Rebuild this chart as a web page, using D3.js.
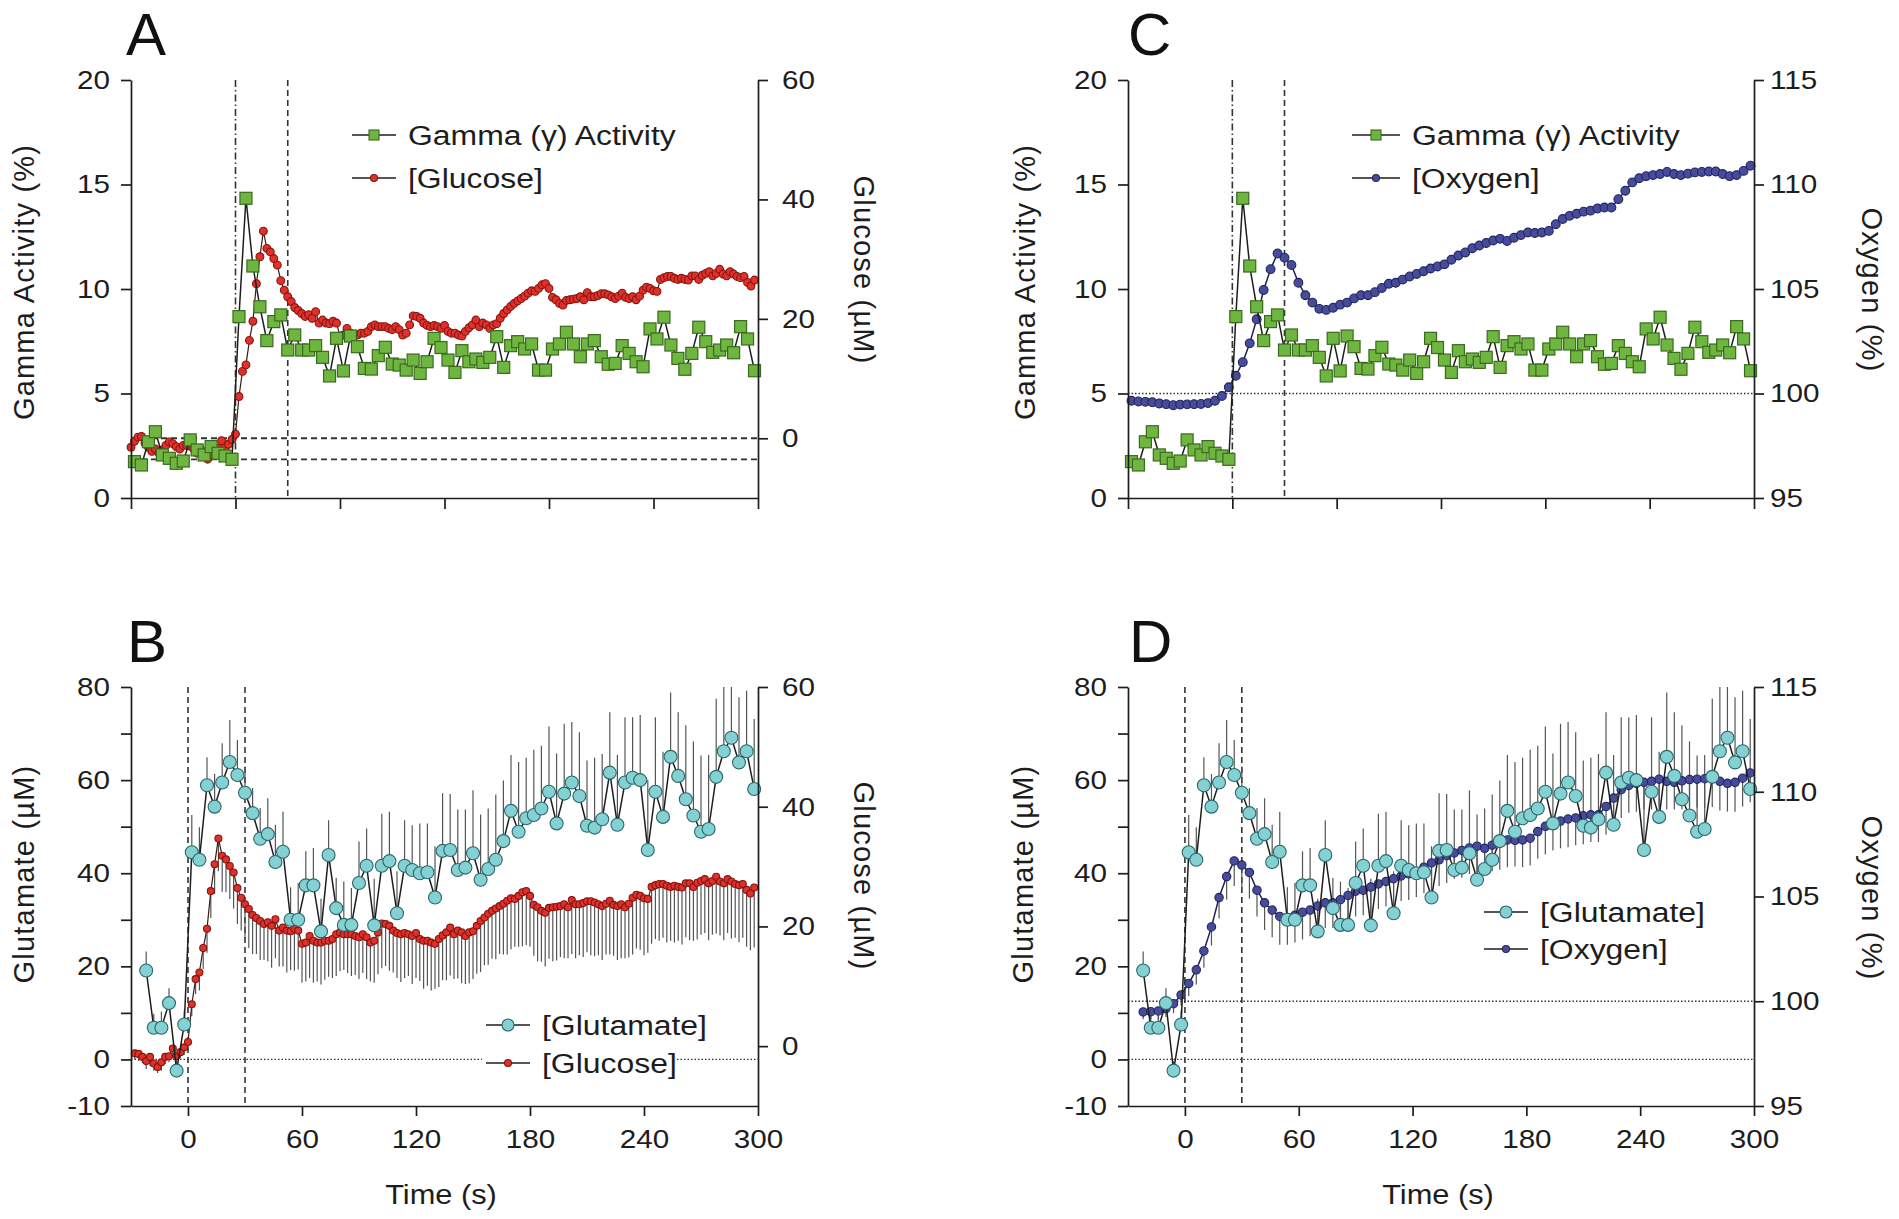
<!DOCTYPE html>
<html><head><meta charset="utf-8">
<script src="https://cdn.jsdelivr.net/npm/d3@7"></script>
<style>html,body{margin:0;padding:0;background:#fff;}svg{display:block;}</style>
</head><body><svg id="chart" width="1899" height="1219"></svg>
<script>
// ---------------- DATA ----------------
// gamma activity (%) and oxygen (%) sampled every 4 s from -58 s to 298 s
const gammaTimes = d3.range(-58, 299, 4);
const gamma = [1.74,1.58,2.69,3.17,2.06,1.90,1.66,1.77,2.78,2.30,2.06,2.46,2.14,2.01,1.85,
8.68,14.34,11.1,9.15,7.53,8.44,8.76,7.08,7.80,7.08,
7.08,7.29,6.73,5.84,7.64,6.08,7.75,7.24,6.2,6.17,
6.81,7.21,6.41,6.36,6.12,6.6,5.96,6.52,7.64,7.2,
6.6,6.01,7.05,6.52,6.65,6.49,6.73,7.72,6.25,7.29,
7.48,7.13,7.37,6.12,6.12,7.13,7.37,7.93,7.37,6.76,
7.37,7.53,6.76,6.4,6.44,7.29,6.92,6.52,6.28,8.09,
7.61,8.65,7.32,6.68,6.16,6.92,8.17,7.48,6.97,7.08,
7.32,6.95,8.2,7.61,6.09];
const oxygen = [99.65,99.62,99.6,99.58,99.52,99.49,99.44,99.47,99.48,99.49,99.5,99.54,99.65,99.88,100.3,
100.85,101.5,102.4,103.55,104.95,105.95,106.7,106.5,106.15,105.3,
104.7,104.35,104.05,104.0,104.1,104.25,104.35,104.55,104.7,104.7,
104.85,105.05,105.25,105.3,105.45,105.6,105.72,105.85,105.98,106.08,
106.18,106.4,106.6,106.75,106.95,107.08,107.2,107.32,107.4,107.3,
107.45,107.58,107.7,107.68,107.7,107.78,108.1,108.35,108.5,108.6,
108.7,108.75,108.85,108.9,108.9,109.3,109.7,110.1,110.3,110.4,
110.45,110.5,110.6,110.5,110.45,110.52,110.58,110.6,110.62,110.62,
110.5,110.4,110.45,110.65,110.9];
const oxygenErr = [0.3,0.3,0.3,0.3,0.3,0.3,0.3,0.3,0.3,0.35,0.35,0.4,0.4,0.45,0.5,
0.6,0.7,0.8,0.9,1.0,1.1,1.2,1.2,1.25,1.25,
1.3,1.3,1.35,1.3,1.3,1.3,1.25,1.25,1.2,1.2,
1.2,1.25,1.2,1.2,1.25,1.2,1.2,1.25,1.2,1.25,
1.2,1.25,1.3,1.25,1.3,1.25,1.3,1.25,1.3,1.3,
1.25,1.3,1.3,1.25,1.3,1.3,1.3,1.35,1.3,1.3,
1.35,1.3,1.35,1.3,1.3,1.35,1.3,1.35,1.3,1.35,
1.3,1.35,1.3,1.35,1.3,1.35,1.3,1.35,1.4,1.35,
1.4,1.35,1.4,1.35,1.4];

// glutamate (µM) sampled every 4 s from -22 s to 298 s
const glutamateTimes = d3.range(-22, 299, 4);
const glutamate = [19.1,6.8,6.8,12.1,-2.4,7.5,
44.5,42.9,58.9,54.3,59.5,63.9,61.1,57.3,52.9,47.4,
48.4,42.4,44.6,30.0,30.0,37.4,37.4,27.5,43.9,32.5,
28.9,28.9,37.9,41.6,28.8,41.6,42.6,31.4,41.6,40.7,
40.0,40.2,34.8,44.8,45.0,40.7,41.2,44.3,38.6,40.9,
42.9,46.9,53.4,48.9,51.8,52.5,53.9,57.5,50.7,57.1,
59.5,56.6,50.2,49.8,51.6,61.6,50.4,59.5,60.5,60.0,
45.0,57.5,52.1,65.0,60.9,55.9,52.4,48.9,49.5,60.7,
66.2,69.1,63.8,66.2,58.1];
const glutamateErr = [4.1,3.0,3.5,3.2,2.0,3.0,
8,7,6,7,8.4,9,7.5,5.6,
5.4,6.6,7.7,8,8.6,7,7.9,7.3,
8,7,7.5,6.5,9.3,7.9,8.9,8,
10,11.2,10.6,9,9.8,9.6,10.7,10.5,
11,12.4,12,13,12.5,13.5,14,13,
14,13,12,15,13,14,13.5,14,
15,15,13,13.7,14,15,14,13,
15,14,13,14,15,16,14,13.8,
13.7,15.9,15.9,16.4,15.9,16.8,14,11,
14,13,15];

// glucose (µM) sampled every 2 s from -60 s to 298 s
const glucoseTimes = d3.range(-60, 299, 2);
const glucose = [-1.5,-0.5,0.2,0.3,-0.8,-1.5,-2.2,-1.8,-2.5,-2.0,-1.2,-0.6,-0.9,-1.4,-1.8,-1.2,
-1.2,-1.3,-1.8,-2.5,-1.8,-2.9,-3.5,-2.7,-1.8,-1.7,-0.4,-1.6,-1.0,-0.2,
0.7,
7.0,11.2,12.3,16.4,19.6,25.9,30.4,34.7,31.8,31.2,
30.1,29.0,26.4,24.8,23.7,22.9,21.9,21.4,20.9,20.4,
20.7,20.1,21.2,19.3,19.8,19.3,19.2,19.6,19.3,17.1,
17.3,18.4,17.6,17.3,17.3,17.6,17.6,17.9,18.7,19.0,
18.7,18.7,18.7,18.4,18.2,18.7,18.2,17.3,17.6,19.0,
20.5,20.4,20.1,19.3,18.9,18.7,18.9,18.7,18.4,18.9,
17.9,17.6,17.6,17.3,17.1,17.9,18.5,19.0,
19.8,18.7,19.3,19.0,18.4,19.0,19.2,20.1,20.9,21.5,
22.1,22.6,23.0,23.4,23.8,24.3,24.7,24.6,25.1,25.7,
25.9,25.1,23.6,23.2,22.6,22.3,23.1,23.2,23.3,23.4,
23.7,23.2,24.4,23.7,23.7,23.9,24.2,24.2,24.0,23.7,
23.4,23.8,24.3,23.6,23.4,23.7,23.2,23.8,24.8,25.3,
25.1,24.7,24.6,26.6,26.9,27.1,27.1,26.8,26.6,26.8,
26.6,26.5,27.2,27.2,26.6,27.3,27.6,27.9,27.2,27.6,
28.3,27.5,27.2,27.9,27.5,27.1,26.9,27.1,26.1,25.5,
26.5];
const glucoseErr = [1,1,1,1,1,1,1,1,1,1,1,1,1,1,1,1,
1.0,1.2,1.0,1.3,1.5,1.2,1.0,1.4,1.2,1.0,1.5,1.2,1.0,1.3,
1.5,
2,2.5,3,3.5,4,4.5,5,5.5,6,5.5,
5.5,6,6,5.5,6,6.5,6.5,6,6.5,6,
6.5,7,6.5,6,6.5,7,6.5,7,6.5,6.5,
6.5,7,7,6.5,7,6.5,6,6.5,7,6.5,
6,6.5,7,6.5,7,6.5,7,6.5,7,7,
7.5,7,7.5,7,7.5,8,7.5,7,8,7.5,
7,8,7.5,8,7.5,8,7.5,8,
8,7.5,8,8.5,8,8.5,8,8,8.5,8,
8.5,8,8.5,8,8.5,9,8.5,8,8.5,9,
9,8.5,8.5,9,8.5,9,8.5,9,9,8.5,
9,8.5,9,9,8.5,9,8.5,9,9,8.5,
9,8.5,9,8.5,9,9,8.5,9,9.5,9,
9,9.5,9,9.5,9,9.5,9,9.5,9,9.5,
9,9.5,9,9.5,9,9.5,9,9,9.5,9,
9.5,9,9.5,9,9.5,9,9.5,9,9.5,9.5,
10];

// ticks / labels
const timeTicksTop = [-60, 0, 60, 120, 180, 240, 300];
const timeTicksBottom = [0, 60, 120, 180, 240, 300];
const gammaTicks = [0, 5, 10, 15, 20];
const glucoseTicks = [0, 20, 40, 60];
const oxygenTicks = [95, 100, 105, 110, 115];
const glutamateTicks = [-10, 0, 10, 20, 30, 40, 50, 60, 70, 80];
const glutamateTickLabels = [-10, 0, 20, 40, 60, 80];
const stimulusLines = [0, 30];

// ---------------- DRAWING ----------------
const FONT = "'Liberation Sans', Arial, Helvetica, sans-serif";
const S = 1.14;
const INK = '#1d1d1d';
const C = {
  gFill:'#6fb641', gStroke:'#3a6a1e',
  rFill:'#e0302a', rStroke:'#861511',
  oFill:'#474b9b', oStroke:'#22255c',
  tFill:'#84d1d3', tStroke:'#2b676b'
};
const svg = d3.select('#chart');
svg.append('rect').attr('width',1899).attr('height',1219).attr('fill','#fff');

const gammaData = gammaTimes.map((t,i)=>({t, v:gamma[i]}));
const oxygenData = gammaTimes.map((t,i)=>({t, v:oxygen[i], e:oxygenErr[i]}));
const glutData = glutamateTimes.map((t,i)=>({t, v:glutamate[i], e:glutamateErr[i]}));
const glucData = glucoseTimes.map((t,i)=>({t, v:glucose[i], e:glucoseErr[i]}));

function hText(parent, x, y, str, size, anchor){
  return parent.append('text')
    .attr('transform', `translate(${x},${y}) scale(${S},1)`)
    .attr('font-size', size).attr('font-family', FONT).attr('fill', INK)
    .attr('text-anchor', anchor || 'start').attr('dominant-baseline','central')
    .text(str);
}
function vText(parent, x, y, str, rot){
  return parent.append('text')
    .attr('transform', `translate(${x},${y}) rotate(${rot})`)
    .attr('font-size', 29).attr('font-family', FONT).attr('fill', INK)
    .attr('letter-spacing', 1.2)
    .attr('text-anchor','middle').attr('dominant-baseline','central')
    .text(str);
}
function styleAxis(g){
  g.attr('font-family', FONT).attr('font-size', 26);
  g.select('.domain').attr('stroke', INK).attr('stroke-width', 1.7);
  g.selectAll('.tick line').attr('stroke', INK).attr('stroke-width', 1.7);
  g.selectAll('.tick text').attr('fill', INK).each(function(){
    const x = +(this.getAttribute('x') || 0);
    this.setAttribute('x', x / S);
    this.setAttribute('transform', `scale(${S},1)`);
  });
}
function lineSeries(g, data, x, y, color, width){
  g.append('path').datum(data)
    .attr('d', d3.line().x(d=>x(d.t)).y(d=>y(d.v)))
    .attr('fill','none').attr('stroke', color).attr('stroke-width', width || 1.4)
    .attr('stroke-linejoin','round');
}
function circles(g, data, x, y, r, fill, stroke){
  g.selectAll(null).data(data).enter().append('circle')
    .attr('cx', d=>x(d.t)).attr('cy', d=>y(d.v)).attr('r', r)
    .attr('fill', fill).attr('stroke', stroke).attr('stroke-width', 1.1);
}
function squares(g, data, x, y, s, fill, stroke){
  g.selectAll(null).data(data).enter().append('rect')
    .attr('x', d=>x(d.t)-s/2).attr('y', d=>y(d.v)-s/2).attr('width', s).attr('height', s)
    .attr('fill', fill).attr('stroke', stroke).attr('stroke-width', 1.2);
}
function errBars(g, data, x, y, dir, clampTop){
  g.selectAll(null).data(data).enter().append('line')
    .attr('x1', d=>x(d.t)).attr('x2', d=>x(d.t))
    .attr('y1', d=>y(d.v))
    .attr('y2', d=>{ let v = d.v + dir*d.e; if (clampTop!==undefined) v = Math.min(v, clampTop); return y(v); })
    .attr('stroke', '#555').attr('stroke-width', 1.2);
}
function vLine(g, x, t, y0, y1, dash){
  g.append('line').attr('x1', x(t)).attr('x2', x(t)).attr('y1', y0).attr('y2', y1)
    .attr('stroke', '#333').attr('stroke-width', 1.6).attr('stroke-dasharray', dash);
}
function hLine(g, x0, x1, yv, dash, w){
  g.append('line').attr('x1', x0).attr('x2', x1).attr('y1', yv).attr('y2', yv)
    .attr('stroke', '#333').attr('stroke-width', w || 1.3).attr('stroke-dasharray', dash);
}
function legendRow(g, x0, x1, y, marker, label){
  g.append('line').attr('x1', x0).attr('x2', x1).attr('y1', y).attr('y2', y)
    .attr('stroke', INK).attr('stroke-width', 1.6);
  const cx = (x0+x1)/2;
  if (marker.type === 'square') {
    g.append('rect').attr('x', cx-marker.s/2).attr('y', y-marker.s/2).attr('width', marker.s).attr('height', marker.s)
      .attr('fill', marker.fill).attr('stroke', marker.stroke).attr('stroke-width', 1.1);
  } else {
    g.append('circle').attr('cx', cx).attr('cy', y).attr('r', marker.r)
      .attr('fill', marker.fill).attr('stroke', marker.stroke).attr('stroke-width', 1.1);
  }
  hText(g, x1 + 12, y, label, 28, 'start');
}
function letter(x, y, str){
  svg.append('text').attr('x', x).attr('y', y).attr('font-size', 60).attr('font-family', FONT)
    .attr('fill', '#111').text(str);
}

const DASHDOT = '7,3,1.5,3';
const DASH = '6,4';
const DOT = '1.5,2';

// ================= PANEL A =================
(function(){
  const x0=131, x1=758, yT=80, yB=498;
  const x = d3.scaleLinear().domain([-60,300]).range([x0,x1]);
  const yL = d3.scaleLinear().domain([0,20]).range([yB,yT]);
  const yR = d3.scaleLinear().domain([-10,60]).range([yB,yT]);
  const g = svg.append('g');
  vLine(g, x, stimulusLines[0], yT, yB, DASHDOT);
  vLine(g, x, stimulusLines[1], yT, yB, DASH);
  hLine(g, x0, x1, yR(0), DASH, 1.9);
  hLine(g, x0, x1, yL(1.85), DASH, 1.9);
  lineSeries(g, glucData, x, yR, '#3a1a1a', 1.2);
  circles(g, glucData, x, yR, 3.9, C.rFill, C.rStroke);
  lineSeries(g, gammaData, x, yL, INK, 1.5);
  squares(g, gammaData, x, yL, 12, C.gFill, C.gStroke);
  styleAxis(svg.append('g').attr('transform',`translate(${x0},0)`)
    .call(d3.axisLeft(yL).tickValues(gammaTicks).tickSize(10).tickPadding(11).tickSizeOuter(0)));
  styleAxis(svg.append('g').attr('transform',`translate(${x1},0)`)
    .call(d3.axisRight(yR).tickValues(glucoseTicks).tickSize(10).tickPadding(14).tickSizeOuter(0)));
  styleAxis(svg.append('g').attr('transform',`translate(0,${yB})`)
    .call(d3.axisBottom(x).tickValues(timeTicksTop).tickFormat('').tickSize(11).tickSizeOuter(0)));
  legendRow(svg, 352, 396, 135, {type:'square', s:10, fill:C.gFill, stroke:C.gStroke}, 'Gamma (γ) Activity');
  legendRow(svg, 352, 396, 178, {type:'circle', r:3.5, fill:C.rFill, stroke:C.rStroke}, '[Glucose]');
  vText(svg, 24, 282, 'Gamma Activity (%)', -90);
  vText(svg, 864, 270, 'Glucose (µM)', 90);
  letter(126, 55, 'A');
})();

// ================= PANEL C =================
(function(){
  const x0=1128, x1=1754, yT=80, yB=498;
  const x = d3.scaleLinear().domain([-60,300]).range([x0,x1]);
  const yL = d3.scaleLinear().domain([0,20]).range([yB,yT]);
  const yR = d3.scaleLinear().domain([95,115]).range([yB,yT]);
  const g = svg.append('g');
  vLine(g, x, stimulusLines[0], yT, yB, DASHDOT);
  vLine(g, x, stimulusLines[1], yT, yB, DASH);
  hLine(g, x0, x1, yR(100), DOT, 1.3);
  lineSeries(g, oxygenData, x, yR, '#1e2050', 1.5);
  circles(g, oxygenData, x, yR, 4.4, C.oFill, C.oStroke);
  lineSeries(g, gammaData, x, yL, INK, 1.5);
  squares(g, gammaData, x, yL, 12, C.gFill, C.gStroke);
  styleAxis(svg.append('g').attr('transform',`translate(${x0},0)`)
    .call(d3.axisLeft(yL).tickValues(gammaTicks).tickSize(10).tickPadding(11).tickSizeOuter(0)));
  styleAxis(svg.append('g').attr('transform',`translate(${x1},0)`)
    .call(d3.axisRight(yR).tickValues(oxygenTicks).tickSize(10).tickPadding(6).tickSizeOuter(0)));
  styleAxis(svg.append('g').attr('transform',`translate(0,${yB})`)
    .call(d3.axisBottom(x).tickValues(timeTicksTop).tickFormat('').tickSize(11).tickSizeOuter(0)));
  legendRow(svg, 1352, 1400, 135, {type:'square', s:10, fill:C.gFill, stroke:C.gStroke}, 'Gamma (γ) Activity');
  legendRow(svg, 1352, 1400, 178, {type:'circle', r:3.5, fill:C.oFill, stroke:C.oStroke}, '[Oxygen]');
  vText(svg, 1025, 282, 'Gamma Activity (%)', -90);
  vText(svg, 1872, 290, 'Oxygen (%)', 90);
  letter(1128, 55, 'C');
})();

// ================= PANEL B =================
(function(){
  const x0=131, x1=758, yT=687, yB=1106;
  const x = d3.scaleLinear().domain([-30,300]).range([x0,x1]);
  const yL = d3.scaleLinear().domain([-10,80]).range([yB,yT]);
  const yR = d3.scaleLinear().domain([-10,60]).range([yB,yT]);
  const g = svg.append('g');
  const glc = glucData.filter(d=>d.t >= -28);
  vLine(g, x, stimulusLines[0], yT, yB, DASH);
  vLine(g, x, stimulusLines[1], yT, yB, DASH);
  hLine(g, x0, x1, yL(0), DOT, 1.3);
  errBars(g, glc, x, yR, -1);
  lineSeries(g, glc, x, yR, '#3a1a1a', 1.2);
  circles(g, glc, x, yR, 3.5, C.rFill, C.rStroke);
  errBars(g, glutData, x, yL, 1, 80);
  lineSeries(g, glutData, x, yL, INK, 1.5);
  circles(g, glutData, x, yL, 6.5, C.tFill, C.tStroke);
  styleAxis(svg.append('g').attr('transform',`translate(${x0},0)`)
    .call(d3.axisLeft(yL).tickValues(glutamateTicks).tickFormat(d=>glutamateTickLabels.includes(d)?d:'')
      .tickSize(10).tickPadding(11).tickSizeOuter(0)));
  styleAxis(svg.append('g').attr('transform',`translate(${x1},0)`)
    .call(d3.axisRight(yR).tickValues(glucoseTicks).tickSize(10).tickPadding(14).tickSizeOuter(0)));
  styleAxis(svg.append('g').attr('transform',`translate(0,${yB})`)
    .call(d3.axisBottom(x).tickValues(timeTicksBottom).tickSize(10).tickPadding(14).tickSizeOuter(0)));
  svg.append('rect').attr('x', 482).attr('y', 1046).attr('width', 195).attr('height', 34).attr('fill','#fff');
  legendRow(svg, 486, 530, 1025, {type:'circle', r:6, fill:C.tFill, stroke:C.tStroke}, '[Glutamate]');
  legendRow(svg, 486, 530, 1063, {type:'circle', r:3.5, fill:C.rFill, stroke:C.rStroke}, '[Glucose]');
  vText(svg, 24, 874, 'Glutamate (µM)', -90);
  vText(svg, 864, 876, 'Glucose (µM)', 90);
  hText(svg, 441, 1195, 'Time (s)', 27, 'middle');
  letter(127, 662, 'B');
})();

// ================= PANEL D =================
(function(){
  const x0=1128, x1=1754, yT=687, yB=1106;
  const x = d3.scaleLinear().domain([-30,300]).range([x0,x1]);
  const yL = d3.scaleLinear().domain([-10,80]).range([yB,yT]);
  const yR = d3.scaleLinear().domain([95,115]).range([yB,yT]);
  const g = svg.append('g');
  const oxy = oxygenData.filter(d=>d.t >= -22);
  vLine(g, x, stimulusLines[0], yT, yB, DASH);
  vLine(g, x, stimulusLines[1], yT, yB, DASH);
  hLine(g, x0, x1, yR(100), DOT, 1.3);
  hLine(g, x0, x1, yL(0), DOT, 1.3);
  errBars(g, oxy, x, yR, -1);
  errBars(g, glutData, x, yL, 1, 80);
  lineSeries(g, oxy, x, yR, '#1e2050', 1.5);
  circles(g, oxy, x, yR, 4.2, C.oFill, C.oStroke);
  lineSeries(g, glutData, x, yL, INK, 1.5);
  circles(g, glutData, x, yL, 6.5, C.tFill, C.tStroke);
  styleAxis(svg.append('g').attr('transform',`translate(${x0},0)`)
    .call(d3.axisLeft(yL).tickValues(glutamateTicks).tickFormat(d=>glutamateTickLabels.includes(d)?d:'')
      .tickSize(10).tickPadding(11).tickSizeOuter(0)));
  styleAxis(svg.append('g').attr('transform',`translate(${x1},0)`)
    .call(d3.axisRight(yR).tickValues(oxygenTicks).tickSize(10).tickPadding(6).tickSizeOuter(0)));
  styleAxis(svg.append('g').attr('transform',`translate(0,${yB})`)
    .call(d3.axisBottom(x).tickValues(timeTicksBottom).tickSize(10).tickPadding(14).tickSizeOuter(0)));
  legendRow(svg, 1484, 1528, 912, {type:'circle', r:6, fill:C.tFill, stroke:C.tStroke}, '[Glutamate]');
  legendRow(svg, 1484, 1528, 949, {type:'circle', r:3.5, fill:C.oFill, stroke:C.oStroke}, '[Oxygen]');
  vText(svg, 1023, 874, 'Glutamate (µM)', -90);
  vText(svg, 1872, 898, 'Oxygen (%)', 90);
  hText(svg, 1438, 1195, 'Time (s)', 27, 'middle');
  letter(1129, 662, 'D');
})();
</script>
</body></html>
